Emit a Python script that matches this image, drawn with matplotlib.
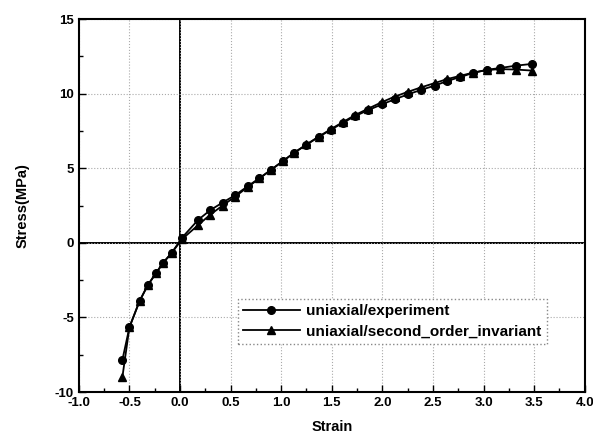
import matplotlib
matplotlib.use("Agg")
import matplotlib.pyplot as plt
from matplotlib.ticker import MultipleLocator

# strain / stress readings for the uniaxial test and the model
strain = [-0.57, -0.50, -0.40, -0.32, -0.24, -0.165, -0.08, 0.02, 0.18, 0.30,
          0.42, 0.545, 0.67, 0.785, 0.90, 1.02, 1.13, 1.25, 1.37, 1.49,
          1.61, 1.73, 1.86, 2.00, 2.12, 2.25, 2.38, 2.52, 2.64, 2.77,
          2.90, 3.03, 3.16, 3.32, 3.48]
stress_exp = [-7.85, -5.65, -3.90, -2.85, -2.05, -1.32, -0.65, 0.35, 1.55, 2.20,
              2.70, 3.20, 3.80, 4.34, 4.90, 5.50, 6.05, 6.58, 7.10, 7.58,
              8.05, 8.50, 8.90, 9.30, 9.62, 9.95, 10.25, 10.55, 10.85, 11.12,
              11.40, 11.60, 11.72, 11.88, 12.00]
stress_inv = [-9.00, -5.65, -3.90, -2.85, -2.05, -1.32, -0.65, 0.25, 1.20, 1.90,
              2.50, 3.10, 3.75, 4.32, 4.90, 5.50, 6.05, 6.60, 7.12, 7.62,
              8.10, 8.57, 9.00, 9.45, 9.80, 10.12, 10.42, 10.72, 10.98, 11.20,
              11.42, 11.58, 11.65, 11.62, 11.55]

labels = ["uniaxial/experiment", "uniaxial/second_order_invariant"]

plt.rcParams["font.family"] = ["Liberation Sans", "DejaVu Sans"]
plt.rcParams["font.weight"] = "bold"

fig = plt.figure(figsize=(5.93, 4.45), dpi=100)
ax = fig.add_axes([0.133, 0.119, 0.853, 0.838])

ax.axhline(0, color="black", lw=1.4, zorder=1)
ax.axvline(0, color="black", lw=1.4, zorder=1)

ax.plot(strain, stress_exp, "-o", color="black", lw=1.3, ms=5.5, label=labels[0], zorder=3)
ax.plot(strain, stress_inv, "-^", color="black", lw=1.3, ms=6, label=labels[1], zorder=3)

ax.set_xlim(-1.0, 4.0)
ax.set_ylim(-10, 15)
ax.xaxis.set_major_locator(MultipleLocator(0.5))
ax.xaxis.set_minor_locator(MultipleLocator(0.25))
ax.yaxis.set_major_locator(MultipleLocator(5))
ax.yaxis.set_minor_locator(MultipleLocator(2.5))
ax.xaxis.set_major_formatter(plt.FuncFormatter(lambda v, p: f"{v:.1f}"))
ax.yaxis.set_major_formatter(plt.FuncFormatter(lambda v, p: f"{v:.0f}"))

ax.tick_params(which="both", direction="in", width=1.0, labelsize=9.5)
ax.tick_params(which="major", length=5)
ax.tick_params(which="minor", length=3)
for s in ax.spines.values():
    s.set_linewidth(1.5)

ax.grid(True, which="major", linestyle=":", color="#aaaaaa", lw=0.8)

ax.set_xlabel("Strain", fontsize=10.5, fontweight="bold", labelpad=8)
ax.set_ylabel("Stress(MPa)", fontsize=10.5, fontweight="bold", labelpad=18)

leg = ax.legend(loc="lower left", bbox_to_anchor=(0.314, 0.13), fontsize=11,
                frameon=True, fancybox=False, borderpad=0.35, handlelength=3.7,
                labelspacing=0.4, handletextpad=0.45, borderaxespad=0)
leg.get_frame().set_edgecolor("#888888")
leg.get_frame().set_linestyle(":")
leg.get_frame().set_linewidth(1.0)
leg.get_frame().set_alpha(1.0)

fig.savefig("out.png", dpi=100)
